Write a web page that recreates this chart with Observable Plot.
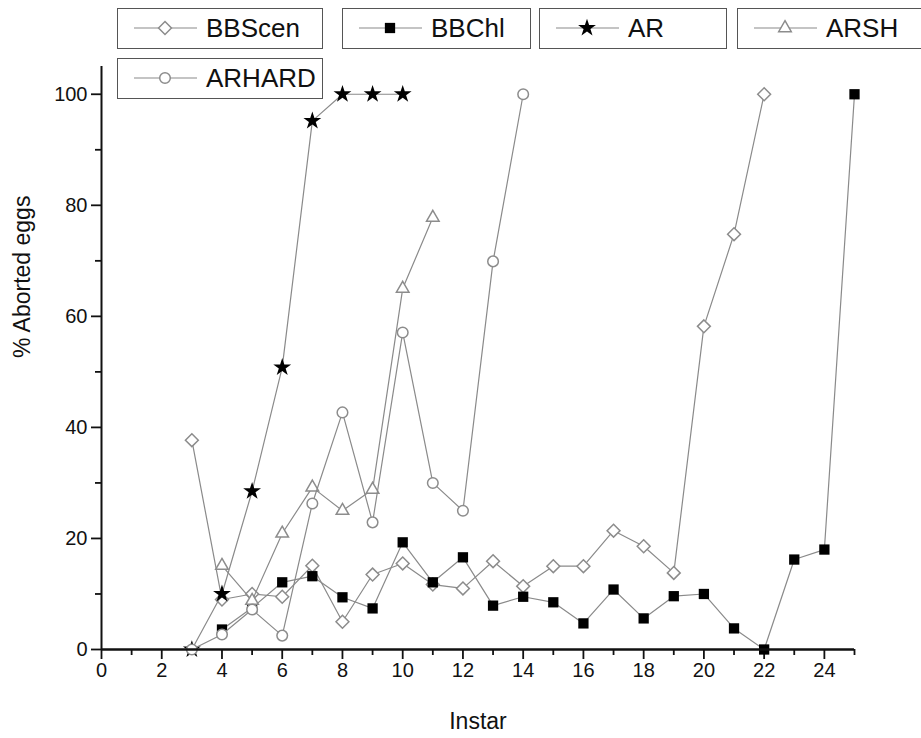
<!DOCTYPE html>
<html>
<head>
<meta charset="utf-8">
<script src="https://cdn.jsdelivr.net/npm/d3@7"></script>
<script src="https://cdn.jsdelivr.net/npm/@observablehq/plot@0.6"></script>
<style>
  html, body { margin: 0; padding: 0; background: #fff; }
  #wrap { position: relative; width: 921px; height: 738px; overflow: hidden; font-family: "Liberation Sans", Arial, sans-serif; }
  .lg { position: absolute; box-sizing: border-box; border: 1.5px solid #555; background: #fff; height: 41px; }
  .lg svg { position: absolute; left: 0; top: 0; }
  .lg span { position: absolute; top: 50%; transform: translateY(-52%); font-size: 26px; color: #111; white-space: nowrap; }
</style>
</head>
<body>
<div id="wrap"></div>
<script>
// ---- data ----
const bbscenX = [3,4,5,6,7,8,9,10,11,12,13,14,15,16,17,18,19,20,21,22];
const bbscenY = [37.7,9,10,9.5,15.1,5,13.5,15.5,11.7,11,15.9,11.4,15,15,21.4,18.6,13.8,58.2,74.8,100];
const bbchlX = [4,5,6,7,8,9,10,11,12,13,14,15,16,17,18,19,20,21,22,23,24,25];
const bbchlY = [3.6,7.5,12.1,13.2,9.4,7.4,19.3,12.1,16.6,7.9,9.5,8.5,4.7,10.8,5.6,9.6,10,3.8,0,16.2,18,100];
const arX = [3,4,5,6,7,8,9,10];
const arY = [0,10,28.5,50.8,95.2,100,100,100];
const arshX = [4,5,6,7,8,9,10,11];
const arshY = [15.1,8.8,20.9,29.2,25,28.8,65,77.8];
const arhardX = [3,4,5,6,7,8,9,10,11,12,13,14];
const arhardY = [0,2.7,7.2,2.5,26.3,42.7,22.9,57.1,30,25,69.9,100];

const seriesNames = ["BBScen","BBChl","AR","ARSH","ARHARD"];
const xTicks = [0,2,4,6,8,10,12,14,16,18,20,22,24];
const xMinor = [1,3,5,7,9,11,13,15,17,19,21,23,25];
const yTicks = [0,20,40,60,80,100];
const yMinor = [10,30,50,70,90];

// ---- styles (kept separate from data) ----
const style = {
  BBScen: {symbol: "diamond2", r: 5.8, fill: "white", stroke: "#8c8c8c", sw: 1.5},
  BBChl:  {symbol: "square",   r: 5.8, fill: "black", stroke: "none",    sw: 0},
  AR:     {symbol: "star",     r: 5.6, fill: "black", stroke: "none",    sw: 0},
  ARSH:   {symbol: "triangle2",r: 6,   fill: "white", stroke: "#8c8c8c", sw: 1.5},
  ARHARD: {symbol: "circle",   r: 5.3, fill: "white", stroke: "#8c8c8c", sw: 1.5}
};
const lineColor = "#8a8a8a";

const toRows = (xs, ys, name) => xs.map((x, i) => ({x, y: ys[i], name}));
const series = {
  BBScen: toRows(bbscenX, bbscenY, "BBScen"),
  BBChl: toRows(bbchlX, bbchlY, "BBChl"),
  AR: toRows(arX, arY, "AR"),
  ARSH: toRows(arshX, arshY, "ARSH"),
  ARHARD: toRows(arhardX, arhardY, "ARHARD")
};

const marks = [];
for (const name of seriesNames) {
  const s = style[name];
  marks.push(Plot.line(series[name], {x: "x", y: "y", stroke: lineColor, strokeWidth: 1.2}));
  marks.push(Plot.dot(series[name], {x: "x", y: "y", symbol: () => s.symbol, r: s.r, fill: s.fill, stroke: s.stroke, strokeWidth: s.sw}));
}

const chart = Plot.plot({
  width: 921,
  height: 738,
  marginLeft: 101,
  marginRight: 67,
  marginTop: 66,
  marginBottom: 89,
  style: {fontFamily: "'Liberation Sans', Arial, sans-serif", background: "white", color: "#111"},
  x: {domain: [0, 25]},
  y: {domain: [0, 105]},
  symbol: {type: "identity"},
  marks: [
    Plot.axisX({ticks: xTicks, tickSize: 10, tickPadding: 3, strokeWidth: 1.8, fontSize: 20, label: null, tickFormat: d => String(d)}),
    Plot.axisX({ticks: xMinor, tickSize: 6, strokeWidth: 1.8, tickFormat: () => "", label: null}),
    Plot.axisY({ticks: yTicks, tickSize: 10, tickPadding: 4, strokeWidth: 1.8, fontSize: 20, label: null, tickFormat: d => String(d)}),
    Plot.axisY({ticks: yMinor, tickSize: 6, strokeWidth: 1.8, tickFormat: () => "", label: null}),
    ...marks,
    Plot.ruleY([0], {stroke: "#111", strokeWidth: 2.4}),
    Plot.ruleX([0], {stroke: "#111", strokeWidth: 2}),
    Plot.text(["Instar"], {frameAnchor: "bottom", dy: 79, fontSize: 23, fill: "#111"}),
    Plot.text(["% Aborted eggs"], {frameAnchor: "left", dx: -79, rotate: -90, fontSize: 23, fill: "#111"})
  ]
});

const wrap = document.getElementById("wrap");
wrap.appendChild(chart);

// ---- legend (HTML boxes above the plot) ----
const legendBoxes = [
  {name: "BBScen", left: 117, top: 8, width: 206},
  {name: "BBChl",  left: 342, top: 8, width: 189},
  {name: "AR",     left: 539, top: 8, width: 188},
  {name: "ARSH",   left: 737, top: 8, width: 200},
  {name: "ARHARD", left: 117, top: 58, width: 206}
];
for (const b of legendBoxes) {
  const s = style[b.name];
  const div = document.createElement("div");
  div.className = "lg";
  div.style.left = b.left + "px";
  div.style.top = b.top + "px";
  div.style.width = b.width + "px";
  const svg = d3.create("svg").attr("width", 90).attr("height", 38);
  svg.append("line").attr("x1", 16).attr("x2", 79).attr("y1", 19).attr("y2", 19).attr("stroke", lineColor).attr("stroke-width", 1.2);
  const symMap = {diamond2: d3.symbolDiamond2, square: d3.symbolSquare, star: d3.symbolStar, triangle2: d3.symbolTriangle2, circle: d3.symbolCircle};
  svg.append("path")
    .attr("d", d3.symbol(symMap[s.symbol], Math.PI * s.r * s.r)())
    .attr("transform", "translate(47,19)")
    .attr("fill", s.fill).attr("stroke", s.stroke).attr("stroke-width", s.sw);
  div.appendChild(svg.node());
  const span = document.createElement("span");
  span.textContent = b.name;
  span.style.left = "88px";
  div.appendChild(span);
  wrap.appendChild(div);
}
</script>
</body>
</html>
